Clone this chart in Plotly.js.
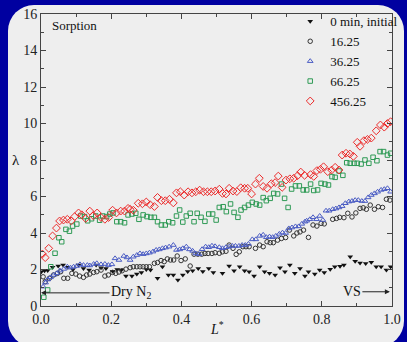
<!DOCTYPE html>
<html>
<head>
<meta charset="utf-8">
<script src="https://cdn.plot.ly/plotly-3.0.1.min.js"></script>
<style>
html,body{margin:0;padding:0;background:rgb(0,0,160);width:407px;height:342px;overflow:hidden;}
#panel{position:absolute;left:8px;top:5px;width:396px;height:342px;background:#eeeeee;border-radius:26px;}
#chart{position:absolute;left:0;top:0;width:407px;height:342px;}
</style>
</head>
<body>
<div id="panel"></div>
<div id="chart"></div>
<script>
// 0 min, initial
var L0 = [0.001,0.010,0.019,0.033,0.049,0.063,0.076,0.091,0.107,0.121,0.137,0.157,0.171,0.185,0.204,0.217,0.229,0.242,0.259,0.273,0.286,0.300,0.312,0.332,0.346,0.363,0.377,0.390,0.404,0.418,0.432,0.448,0.461,0.478,0.491,0.517,0.536,0.550,0.566,0.580,0.593,0.607,0.623,0.637,0.651,0.667,0.681,0.695,0.709,0.723,0.738,0.752,0.762,0.780,0.794,0.807,0.824,0.837,0.852,0.863,0.881,0.895,0.909,0.925,0.941,0.955,0.969,0.984,0.996];
var Y0 = [1.88,1.93,1.95,2.12,2.19,2.24,2.12,2.00,2.24,2.05,1.97,2.24,2.10,2.06,1.90,2.00,1.97,1.64,1.64,1.75,1.83,2.00,1.97,1.52,2.15,1.70,1.70,1.42,1.70,1.89,1.93,2.06,1.89,2.06,1.84,1.79,2.19,1.93,2.15,1.93,1.88,1.64,2.15,1.88,1.79,1.70,2.10,1.88,2.24,1.79,2.06,1.64,1.88,1.75,1.97,1.84,2.01,2.15,2.18,2.24,2.70,2.45,2.35,2.33,2.40,2.15,2.15,1.97,2.15];
// 16.25
var L1 = [0.006,0.012,0.024,0.036,0.047,0.056,0.065,0.076,0.088,0.099,0.110,0.121,0.130,0.139,0.150,0.159,0.171,0.182,0.192,0.204,0.213,0.222,0.231,0.242,0.254,0.263,0.273,0.282,0.291,0.300,0.309,0.323,0.332,0.342,0.351,0.360,0.369,0.378,0.388,0.399,0.411,0.425,0.436,0.447,0.458,0.467,0.476,0.487,0.496,0.508,0.517,0.527,0.536,0.547,0.556,0.565,0.575,0.584,0.593,0.611,0.623,0.633,0.644,0.653,0.662,0.674,0.685,0.697,0.708,0.720,0.729,0.738,0.748,0.762,0.775,0.786,0.798,0.807,0.831,0.842,0.851,0.863,0.874,0.886,0.897,0.909,0.918,0.927,0.938,0.950,0.961,0.973,0.984,0.994];
var Y1 = [1.60,1.33,1.52,1.70,1.79,1.88,1.52,1.52,1.79,1.75,1.64,1.57,1.70,1.75,1.84,1.88,1.97,1.64,1.70,1.84,1.79,1.86,1.93,2.02,2.10,2.15,2.15,2.15,2.15,2.15,2.15,2.34,2.38,2.49,2.43,2.58,2.52,2.52,2.74,2.49,2.58,2.19,2.84,2.84,2.84,2.88,2.88,2.88,2.92,2.89,2.97,3.00,3.34,3.16,2.83,2.97,3.25,3.25,3.25,3.16,3.34,3.25,3.52,3.47,3.47,3.61,3.70,3.75,4.16,3.84,4.00,4.06,4.16,3.76,4.44,4.38,4.53,4.50,4.75,4.80,4.86,4.84,5.08,4.88,5.10,5.35,5.38,5.30,5.53,5.30,5.44,5.40,5.85,5.80];
// 36.25
var L2 = [0.006,0.013,0.019,0.027,0.036,0.045,0.054,0.065,0.075,0.084,0.093,0.102,0.111,0.121,0.132,0.139,0.150,0.159,0.171,0.182,0.192,0.202,0.211,0.222,0.236,0.245,0.254,0.263,0.273,0.282,0.291,0.300,0.309,0.319,0.328,0.337,0.346,0.355,0.365,0.377,0.386,0.395,0.404,0.414,0.423,0.432,0.441,0.450,0.459,0.469,0.478,0.487,0.496,0.508,0.517,0.527,0.536,0.545,0.554,0.564,0.573,0.582,0.591,0.602,0.612,0.623,0.633,0.642,0.651,0.660,0.669,0.679,0.688,0.697,0.706,0.715,0.725,0.734,0.743,0.752,0.757,0.766,0.775,0.785,0.794,0.803,0.812,0.821,0.831,0.840,0.849,0.858,0.867,0.877,0.886,0.895,0.904,0.914,0.923,0.932,0.941,0.950,0.959,0.969,0.978,0.987,0.996];
var Y2 = [1.06,1.28,1.45,1.57,1.70,1.79,1.94,2.03,2.15,2.10,2.15,2.19,2.28,2.24,2.24,2.22,2.30,2.34,2.28,2.30,2.24,2.28,2.61,2.52,2.74,2.66,2.52,2.70,2.79,2.88,2.84,2.88,2.92,2.98,3.07,3.10,3.16,3.20,3.25,3.34,3.07,3.10,3.16,3.25,3.10,3.02,2.88,2.84,3.11,3.25,3.22,3.30,3.27,3.22,3.16,3.22,3.25,3.29,3.29,3.29,3.34,3.34,3.40,3.65,3.65,3.84,3.90,3.77,3.80,3.77,3.84,3.95,4.02,4.00,4.25,4.30,4.36,4.36,4.50,4.62,4.67,4.75,4.86,4.75,4.93,4.71,5.22,5.22,5.30,5.34,5.40,5.47,5.63,5.72,5.75,5.80,5.80,5.75,5.75,5.95,6.08,6.17,6.26,6.36,6.40,6.45,6.26];
// 66.25
var L3 = [0.008,0.019,0.028,0.040,0.051,0.059,0.071,0.081,0.090,0.102,0.113,0.124,0.133,0.144,0.156,0.167,0.176,0.187,0.196,0.205,0.216,0.227,0.238,0.248,0.259,0.270,0.279,0.291,0.302,0.313,0.323,0.332,0.343,0.354,0.364,0.375,0.386,0.395,0.404,0.414,0.425,0.436,0.445,0.456,0.467,0.478,0.489,0.499,0.508,0.519,0.528,0.540,0.550,0.561,0.570,0.580,0.591,0.602,0.613,0.623,0.633,0.642,0.653,0.663,0.674,0.685,0.694,0.704,0.714,0.725,0.736,0.747,0.757,0.768,0.777,0.788,0.798,0.809,0.819,0.829,0.838,0.849,0.860,0.871,0.881,0.892,0.901,0.912,0.923,0.934,0.946,0.957,0.966,0.976,0.987,0.996];
var Y3 = [0.48,0.88,2.15,2.89,3.74,3.52,4.20,4.10,4.38,4.49,4.93,4.90,4.67,4.78,4.93,4.70,4.93,4.90,5.04,5.10,4.62,4.62,4.56,4.99,5.04,5.08,4.75,4.99,4.90,4.86,4.86,4.62,4.44,4.44,4.62,4.56,4.93,5.26,4.60,4.93,5.08,4.62,5.08,4.86,4.64,5.04,5.04,4.71,5.40,5.44,5.17,5.59,5.13,4.86,5.26,5.40,5.53,5.68,5.59,5.53,5.94,5.77,5.90,6.17,6.14,6.68,5.90,5.40,6.41,6.58,6.58,6.36,6.36,6.68,6.33,6.36,6.72,6.68,6.63,7.09,7.05,7.40,7.16,7.85,7.82,7.82,7.82,7.78,8.00,7.82,8.15,7.96,8.46,8.46,8.27,8.37];
// 456.25
var L4 = [0.004,0.012,0.022,0.033,0.044,0.053,0.064,0.075,0.086,0.096,0.107,0.116,0.127,0.139,0.149,0.160,0.171,0.182,0.193,0.204,0.215,0.227,0.238,0.248,0.254,0.263,0.277,0.289,0.300,0.311,0.323,0.332,0.343,0.354,0.366,0.377,0.386,0.397,0.408,0.419,0.430,0.441,0.452,0.463,0.474,0.485,0.496,0.508,0.517,0.527,0.536,0.547,0.558,0.569,0.580,0.589,0.600,0.611,0.622,0.633,0.644,0.656,0.667,0.676,0.687,0.698,0.709,0.720,0.731,0.740,0.751,0.768,0.777,0.786,0.796,0.805,0.817,0.828,0.838,0.849,0.858,0.869,0.880,0.890,0.901,0.909,0.920,0.930,0.941,0.955,0.967,0.978,0.987,0.996];
var Y4 = [2.85,2.65,3.16,3.84,4.27,4.66,4.71,4.75,4.67,4.90,5.10,5.00,4.80,5.20,4.95,5.10,4.85,4.75,4.85,5.25,5.10,5.20,5.20,5.35,5.30,5.25,5.63,5.60,5.70,5.55,5.45,5.95,5.77,5.77,5.85,5.65,6.20,6.26,6.08,6.26,6.20,6.26,6.35,6.26,6.26,6.26,6.30,6.40,6.17,6.14,6.45,6.30,6.27,6.48,6.45,6.45,6.14,6.68,7.00,6.55,6.45,6.70,6.76,7.12,6.50,6.90,6.97,7.00,7.14,7.34,7.16,7.20,7.10,7.42,7.49,7.63,7.36,7.45,7.60,7.45,8.27,8.37,8.33,8.20,8.97,8.75,9.06,9.13,9.20,9.60,9.92,9.80,10.00,10.10];

var names = ['0 min, initial','16.25','36.25','66.25','456.25'];
var xTickVals = [0,0.2,0.4,0.6,0.8,1.0];
var xTickText = ['0.0','0.2','0.4','0.6','0.8','1.0'];
var yTickVals = [0,2,4,6,8,10,12,14,16];

var serif = "'Liberation Serif', 'Times New Roman', serif";
var traces = [
  {x:L0,y:Y0,name:names[0],mode:'markers',type:'scatter',marker:{symbol:'triangle-down',size:5,color:'#111'}},
  {x:L1,y:Y1,name:names[1],mode:'markers',type:'scatter',marker:{symbol:'circle-open',size:4.5,color:'#333',line:{width:1}}},
  {x:L2,y:Y2,name:names[2],mode:'markers',type:'scatter',marker:{symbol:'triangle-up-open',size:5,color:'#4a5cc4',line:{width:1}}},
  {x:L3,y:Y3,name:names[3],mode:'markers',type:'scatter',marker:{symbol:'square-open',size:4.5,color:'#2e9a55',line:{width:1}}},
  {x:L4,y:Y4,name:names[4],mode:'markers',type:'scatter',marker:{symbol:'diamond-open',size:6,color:'#ec2a2a',line:{width:1}}}
];

var axCommon = {showgrid:false,zeroline:false,showline:true,linecolor:'#444',linewidth:1,mirror:'ticks',
  ticks:'inside',ticklen:5,tickcolor:'#444',tickfont:{family:serif,size:14,color:'#222'}};

var layout = {
  width:407,height:342,
  paper_bgcolor:'rgba(0,0,0,0)',plot_bgcolor:'rgba(0,0,0,0)',
  margin:{l:41,r:4,t:14,b:36},
  showlegend:true,
  legend:{x:0.71,y:1.026,xanchor:'left',yanchor:'top',bgcolor:'rgba(0,0,0,0)',
    font:{family:serif,size:13,color:'#111'},itemwidth:30,tracegroupgap:0},
  xaxis:Object.assign({},axCommon,{range:[0,1],tickvals:xTickVals,ticktext:xTickText,
    minor:{dtick:0.1,ticks:'inside',ticklen:3,tickcolor:'#444'}}),
  yaxis:Object.assign({},axCommon,{range:[0,16],tickvals:yTickVals,
    minor:{dtick:1,ticks:'inside',ticklen:3,tickcolor:'#444'}}),
  annotations:[
    {xref:'paper',yref:'paper',x:0.025,y:0.96,xanchor:'left',yanchor:'middle',text:'Sorption',showarrow:false,font:{family:serif,size:13,color:'#111'}},
    {xref:'paper',yref:'paper',x:-0.07,y:0.5,xanchor:'center',yanchor:'middle',text:'λ',showarrow:false,font:{family:serif,size:15,color:'#111'}},
    {xref:'paper',yref:'paper',x:0.5,y:-0.075,xanchor:'center',yanchor:'middle',text:'<i>L</i><sup>*</sup>',showarrow:false,font:{family:serif,size:14,color:'#111'}},
    {xref:'x',yref:'y',x:0.0,y:0.72,ax:90,ay:0,text:'Dry N<sub>2</sub>',showarrow:true,arrowhead:2,arrowsize:1,arrowwidth:1,arrowcolor:'#222',standoff:0,font:{family:serif,size:14,color:'#111'}},
    {xref:'x',yref:'y',x:0.994,y:0.78,ax:-38,ay:0,text:'VS',showarrow:true,arrowhead:2,arrowsize:1,arrowwidth:1,arrowcolor:'#222',standoff:0,font:{family:serif,size:14,color:'#111'}}
  ]
};
Plotly.newPlot('chart',traces,layout,{displayModeBar:false,staticPlot:true});
</script>
</body>
</html>
